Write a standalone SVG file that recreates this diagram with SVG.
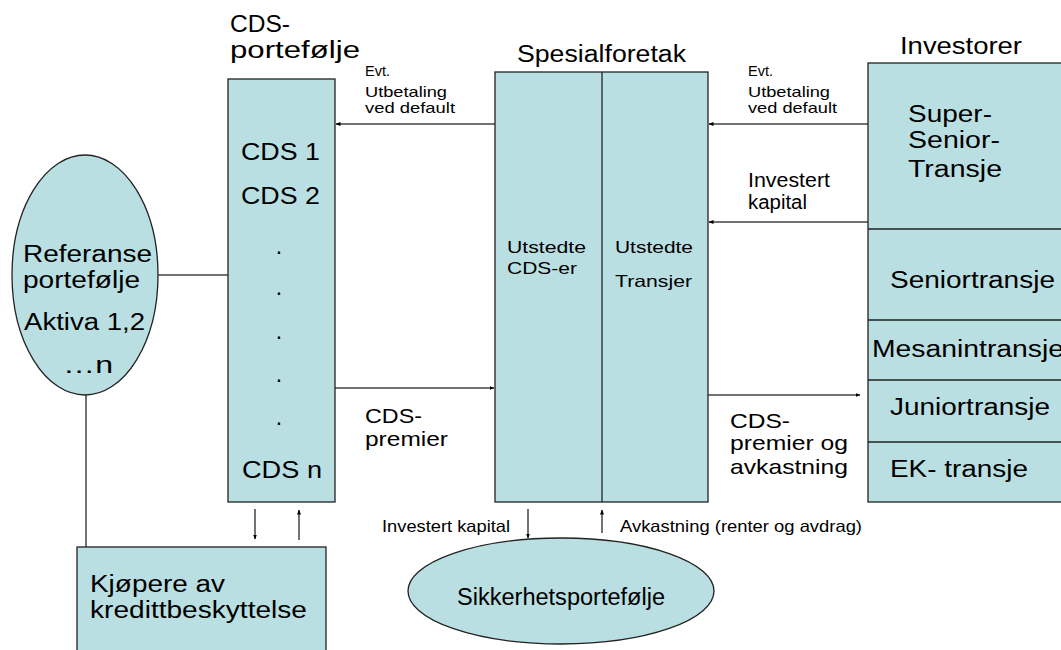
<svg xmlns="http://www.w3.org/2000/svg" width="1061" height="650" viewBox="0 0 1061 650">
<style>
text{font-family:"Liberation Sans",Arial,sans-serif;fill:#000}
.box{fill:#BADFE2;stroke:#222;stroke-width:1.3}
.ln{stroke:#444;stroke-width:1.5;fill:none}
.div{stroke:#222;stroke-width:1.3}
.t23{font-size:23px}
.t21{font-size:21px}
.t20{font-size:20px}
.t16{font-size:16.5px}
.t15{font-size:15px}
</style>
<defs>
<marker id="ah" viewBox="0 0 10 10" refX="9" refY="5" markerWidth="5" markerHeight="5" orient="auto" markerUnits="userSpaceOnUse">
<path d="M0,1 L10,5 L0,9 z" fill="#000"/>
</marker>
</defs>
<rect width="1061" height="650" fill="#fff"/>
<g id="connectors">
<line class="ln" x1="157" y1="275" x2="228" y2="275"/>
<line class="ln" x1="86" y1="395" x2="86" y2="547"/>
<line class="ln" x1="495" y1="124" x2="336" y2="124" marker-end="url(#ah)"/>
<line class="ln" x1="868" y1="124" x2="709" y2="124" marker-end="url(#ah)"/>
<line class="ln" x1="868" y1="222" x2="709" y2="222" marker-end="url(#ah)"/>
<line class="ln" x1="335" y1="388" x2="494" y2="388" marker-end="url(#ah)"/>
<line class="ln" x1="708" y1="395" x2="860" y2="395" marker-end="url(#ah)"/>
<line class="ln" x1="255" y1="509" x2="255" y2="539" marker-end="url(#ah)"/>
<line class="ln" x1="299" y1="540" x2="299" y2="510" marker-end="url(#ah)"/>
<line class="ln" x1="528" y1="509" x2="528" y2="538" marker-end="url(#ah)"/>
<line class="ln" x1="602" y1="533" x2="602" y2="510" marker-end="url(#ah)"/>
<text class="t15" x="365" y="76" textLength="25" lengthAdjust="spacingAndGlyphs">Evt.</text>
<text class="t15" x="365" y="97" textLength="82" lengthAdjust="spacingAndGlyphs">Utbetaling</text>
<text class="t15" x="365" y="113" textLength="90" lengthAdjust="spacingAndGlyphs">ved default</text>
<text class="t15" x="748" y="76" textLength="25" lengthAdjust="spacingAndGlyphs">Evt.</text>
<text class="t15" x="748" y="97" textLength="82" lengthAdjust="spacingAndGlyphs">Utbetaling</text>
<text class="t15" x="748" y="113" textLength="89" lengthAdjust="spacingAndGlyphs">ved default</text>
<text class="t20" x="748" y="187" textLength="82" lengthAdjust="spacingAndGlyphs">Investert</text>
<text class="t20" x="748" y="209" textLength="59" lengthAdjust="spacingAndGlyphs">kapital</text>
<text class="t21" x="365" y="423" textLength="57" lengthAdjust="spacingAndGlyphs">CDS-</text>
<text class="t21" x="365" y="446" textLength="83" lengthAdjust="spacingAndGlyphs">premier</text>
<text class="t21" x="730" y="428" textLength="60" lengthAdjust="spacingAndGlyphs">CDS-</text>
<text class="t21" x="730" y="450" textLength="118" lengthAdjust="spacingAndGlyphs">premier og</text>
<text class="t21" x="730" y="474" textLength="118" lengthAdjust="spacingAndGlyphs">avkastning</text>
<text class="t16" x="382" y="532" textLength="128" lengthAdjust="spacingAndGlyphs">Investert kapital</text>
<text class="t16" x="620" y="532" textLength="242" lengthAdjust="spacingAndGlyphs">Avkastning (renter og avdrag)</text>
</g>
<g id="referanse">
<ellipse class="box" cx="85" cy="275" rx="73" ry="120"/>
<text class="t23" x="23" y="262" textLength="129" lengthAdjust="spacingAndGlyphs">Referanse</text>
<text class="t23" x="23" y="288" textLength="117" lengthAdjust="spacingAndGlyphs">portefølje</text>
<text class="t23" x="24" y="330" textLength="121" lengthAdjust="spacingAndGlyphs">Aktiva 1,2</text>
<text class="t23" x="63" y="373" textLength="50" lengthAdjust="spacingAndGlyphs">…n</text>
</g>
<g id="cds">
<text class="t23" x="230" y="32" textLength="60" lengthAdjust="spacingAndGlyphs">CDS-</text>
<text class="t23" x="230" y="58" textLength="130" lengthAdjust="spacingAndGlyphs">portefølje</text>
<rect class="box" x="228" y="79" width="107" height="423"/>
<text class="t23" x="241" y="160" textLength="79" lengthAdjust="spacingAndGlyphs">CDS 1</text>
<text class="t23" x="241" y="204" textLength="79" lengthAdjust="spacingAndGlyphs">CDS 2</text>
<text class="t23" x="279" y="254" text-anchor="middle">.</text>
<text class="t23" x="279" y="295" text-anchor="middle">.</text>
<text class="t23" x="279" y="339" text-anchor="middle">.</text>
<text class="t23" x="279" y="382" text-anchor="middle">.</text>
<text class="t23" x="279" y="425" text-anchor="middle">.</text>
<text class="t23" x="242" y="478" textLength="80" lengthAdjust="spacingAndGlyphs">CDS n</text>
</g>
<g id="spesialforetak">
<text class="t23" x="517" y="62" textLength="169" lengthAdjust="spacingAndGlyphs">Spesialforetak</text>
<rect class="box" x="495" y="72" width="213" height="430"/>
<line class="div" x1="602" y1="72" x2="602" y2="502"/>
<text class="t16" x="507" y="253" textLength="79" lengthAdjust="spacingAndGlyphs">Utstedte</text>
<text class="t16" x="507" y="274" textLength="70" lengthAdjust="spacingAndGlyphs">CDS-er</text>
<text class="t16" x="615" y="253" textLength="78" lengthAdjust="spacingAndGlyphs">Utstedte</text>
<text class="t16" x="615" y="287" textLength="77" lengthAdjust="spacingAndGlyphs">Transjer</text>
</g>
<g id="investorer">
<text class="t23" x="900" y="54" textLength="122" lengthAdjust="spacingAndGlyphs">Investorer</text>
<rect class="box" x="868" y="63" width="200" height="439"/>
<line class="div" x1="868" y1="229" x2="1061" y2="229"/>
<line class="div" x1="868" y1="320" x2="1061" y2="320"/>
<line class="div" x1="868" y1="380" x2="1061" y2="380"/>
<line class="div" x1="868" y1="442" x2="1061" y2="442"/>
<text class="t23" x="908" y="122" textLength="84" lengthAdjust="spacingAndGlyphs">Super-</text>
<text class="t23" x="908" y="148" textLength="92" lengthAdjust="spacingAndGlyphs">Senior-</text>
<text class="t23" x="908" y="177" textLength="94" lengthAdjust="spacingAndGlyphs">Transje</text>
<text class="t23" x="890" y="288" textLength="165" lengthAdjust="spacingAndGlyphs">Seniortransje</text>
<text class="t23" x="872" y="357" textLength="192" lengthAdjust="spacingAndGlyphs">Mesanintransje</text>
<text class="t23" x="890" y="415" textLength="160" lengthAdjust="spacingAndGlyphs">Juniortransje</text>
<text class="t23" x="890" y="477" textLength="138" lengthAdjust="spacingAndGlyphs">EK- transje</text>
</g>
<g id="kjopere">
<rect class="box" x="77" y="547" width="249" height="110"/>
<text class="t23" x="90" y="592" textLength="135" lengthAdjust="spacingAndGlyphs">Kjøpere av</text>
<text class="t23" x="90" y="618" textLength="217" lengthAdjust="spacingAndGlyphs">kredittbeskyttelse</text>
</g>
<g id="sikkerhet">
<ellipse class="box" cx="561" cy="591" rx="153" ry="53"/>
<text class="t23" x="457" y="605" textLength="208" lengthAdjust="spacingAndGlyphs">Sikkerhetsportefølje</text>
</g>
</svg>
